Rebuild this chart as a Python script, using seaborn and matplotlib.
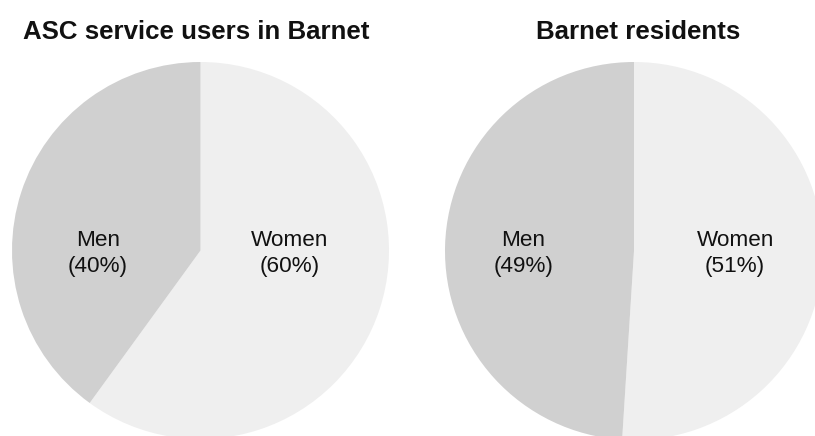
import matplotlib
matplotlib.use("Agg")
import matplotlib.pyplot as plt
import seaborn as sns

# Gender split, ASC service users vs. all Barnet residents
categories = ["Women", "Men"]
asc_users = [60, 40]
residents = [51, 49]
titles = ["ASC service users in Barnet", "Barnet residents"]

sns.set_theme(style="white")
plt.rcParams["font.family"] = ["Liberation Sans", "DejaVu Sans"]

colors = ["#efefef", "#d0d0d0"]

W, H = 815, 436
fig = plt.figure(figsize=(W / 100, H / 100), dpi=100)
fig.patch.set_facecolor("white")

def pie_axes(cx, cy, r):
    # cx, cy, r in pixels, cy measured from the top
    return fig.add_axes([(cx - r) / W, (H - cy - r) / H, 2 * r / W, 2 * r / H])

panels = [
    (asc_users, titles[0], (200.5, 250.5, 188.5), (196, 32), (-0.545, 0.475)),
    (residents, titles[1], (634, 251, 189), (638, 32), (-0.585, 0.535)),
]

for values, title, (cx, cy, r), (tx, ty), label_x in panels:
    ax = pie_axes(cx, cy, r)
    ax.pie(values, colors=colors, startangle=90, counterclock=False,
           radius=1, wedgeprops=dict(linewidth=0))
    ax.set_xlim(-1, 1)
    ax.set_ylim(-1, 1)
    ax.set_aspect("equal")
    ax.axis("off")
    # Women on the right, Men on the left
    for cat, val, lx in zip(categories, values, [label_x[1], label_x[0]]):
        ax.text(lx, -0.015, f"{cat}\n({val}%)", ha="center", va="center",
                multialignment="center", fontsize=16.2, linespacing=1.3,
                color="#111111")
    fig.text(tx / W, 1 - ty / H, title, ha="center", va="center",
             fontsize=18.6, fontweight="bold", color="#111111")

fig.savefig("out.png", dpi=100, facecolor="white")
